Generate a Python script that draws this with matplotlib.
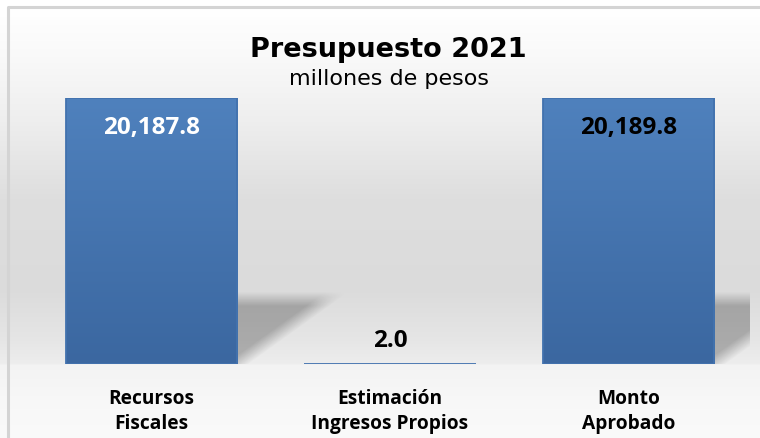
import numpy as np
import matplotlib
matplotlib.use("Agg")
import matplotlib.pyplot as plt
from matplotlib.colors import LinearSegmentedColormap

# ---- data ----
categories = ["Recursos\nFiscales", "Estimación\nIngresos Propios", "Monto\nAprobado"]
values = [20187.8, 2.0, 20189.8]
value_labels = ["20,187.8", "2.0", "20,189.8"]
label_colors = ["white", "black", "black"]
title = "Presupuesto 2021"
subtitle = "millones de pesos"

W, H = 760, 439
fig = plt.figure(figsize=(W / 100, H / 100), dpi=100)
fig.patch.set_facecolor("white")

# ---- background gradient (figure-wide) ----
bg = fig.add_axes([0, 0, 1, 1], zorder=0)
bg.set_xlim(0, W)
bg.set_ylim(H, 0)
bg.axis("off")
ys = np.arange(H)
kp_y = [0, 10, 60, 120, 200, 290, 340, 364, 366, 400, 439]
kp_v = [1.0, 1.0, 0.975, 0.935, 0.870, 0.860, 0.900, 0.930, 0.955, 0.970, 0.980]
col = np.interp(ys, kp_y, kp_v)
img = np.repeat(col[:, None], W, axis=1)
bg.imshow(np.dstack([img, img, img]), extent=[0, W, H, 0], aspect="auto", interpolation="bilinear")
# frame
bg.plot([8, 8, W + 5], [H + 5, 8, 8], color="#d4d4d4", lw=2.2, solid_capstyle="butt")

# ---- main axes ----
base_px, top_px = 365, 99
left_px, right_px = 32.25, 747.75
ax = fig.add_axes([left_px / W, (H - base_px) / H, (right_px - left_px) / W, (base_px - top_px) / H], zorder=2)
ax.patch.set_alpha(0)
x = np.arange(len(values))
ax.set_xlim(-0.5, len(values) - 0.5)
ax.set_ylim(0, max(values))
bars = ax.bar(x, values, width=0.717, facecolor="none", edgecolor="#4272ae", linewidth=1.3, zorder=3)

cmap = LinearSegmentedColormap.from_list("b", ["#3b67a0", "#4f81bd"])
grad = np.linspace(0, 1, 256)[:, None]
for b in bars:
    bx, by, bw, bh = b.get_x(), b.get_y(), b.get_width(), b.get_height()
    if bh <= 0:
        continue
    im = ax.imshow(grad, cmap=cmap, extent=[bx, bx + bw, by, max(values)], origin="lower",
                   aspect="auto", zorder=2.5)
    im.set_clip_path(b)

for spine in ax.spines.values():
    spine.set_visible(False)
ax.set_yticks([])
ax.set_xticks(x)
ax.set_xticklabels(categories, fontfamily="Open Sans", fontweight="bold", fontsize=13.8,
                   linespacing=1.35, color="black")
ax.tick_params(axis="x", length=0, pad=17)

for i, b in enumerate(bars):
    cx = b.get_x() + b.get_width() / 2
    if values[i] > 0.5 * max(values):
        off = -21
    else:
        off = 17.5
    ax.annotate(value_labels[i], (cx, b.get_height()), xytext=(0, off), textcoords="offset points",
                ha="center", va="center", fontfamily="Open Sans", fontweight="bold",
                fontsize=17.5, color=label_colors[i], zorder=5)

# ---- shadows behind tall bars (computed from bar geometry) ----
fig.canvas.draw()
sh = fig.add_axes([0, 0, 1, 1], zorder=1)
sh.set_xlim(0, W)
sh.set_ylim(H, 0)
sh.axis("off")
XX, YY = np.meshgrid(np.arange(W) + 0.5, np.arange(H) + 0.5)
alpha = np.zeros((H, W))
unit_px = ax.transData.transform((1, 0))[0] - ax.transData.transform((0, 0))[0]
for b in bars:
    if b.get_height() < 0.5 * max(values):
        continue
    (x0, y0), (x1, y1) = ax.transData.transform([(b.get_x(), 0), (b.get_x() + b.get_width(), b.get_height())])
    R = x1
    B = H - y0
    h = 0.245 * (y1 - y0)
    w = 0.53 * b.get_width() * unit_px
    d1 = YY - (B - h)
    d2 = (1 - (XX - R) / w - (YY - (B - h)) / h) * (w * h / np.hypot(w, h))
    blur = 7.0
    s1 = np.clip(0.5 + d1 / (2 * blur), 0, 1)
    s2 = np.clip(0.5 + d2 / (2 * blur), 0, 1)
    m = s1 * s2 * (XX > R - 2) * (XX < right_px + 2) * (YY < B)
    alpha = np.maximum(alpha, 0.26 * m)
rgba = np.zeros((H, W, 4))
rgba[..., 3] = alpha
sh.imshow(rgba, extent=[0, W, H, 0], aspect="auto", interpolation="bilinear")

# ---- titles ----
fig.text(388 / W, 1 - 50 / H, title, ha="center", va="center", fontfamily="DejaVu Sans",
         fontweight="bold", fontsize=19.5, color="black")
fig.text(389 / W, 1 - 79 / H, subtitle, ha="center", va="center", fontfamily="DejaVu Sans",
         fontsize=16, color="black")

fig.savefig("out.png", dpi=100, facecolor=fig.get_facecolor())
